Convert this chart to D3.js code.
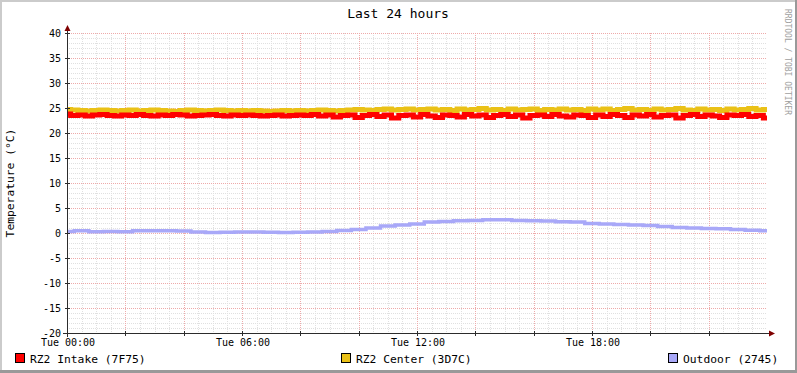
<!DOCTYPE html>
<html>
<head>
<meta charset="utf-8">
<script src="https://cdn.jsdelivr.net/npm/d3@7"></script>
<style>
  body { margin: 0; background: #fff; }
  svg text { font-family: "DejaVu Sans Mono", monospace; fill: #000; }
</style>
</head>
<body>
<svg id="chart" width="797" height="373"></svg>
<script>
(function() {
  // series values, one value per 15 minutes (red/yellow) and 30 minutes (outdoor)
  var intake = [23.8, 23.5, 23.6, 23.4, 23.6, 23.7, 23.5, 23.4, 23.6, 23.5, 23.7, 23.5, 23.4, 23.6, 23.5, 23.7,
    23.6, 23.4, 23.5, 23.6, 23.7, 23.5, 23.4, 23.6, 23.5, 23.6, 23.5, 23.4, 23.5, 23.6, 23.4, 23.5,
    23.6, 23.5, 23.7, 23.4, 23.6, 23.2, 23.5, 23.6, 23.1, 23.5, 23.7, 23.3, 23.6, 23.0, 23.5, 23.6,
    23.2, 23.7, 23.4, 23.1, 23.6, 23.5, 23.2, 23.7, 23.4, 23.6, 23.1, 23.5, 23.7, 23.3, 23.6, 23.0,
    23.5, 23.6, 23.3, 23.7, 23.4, 23.2, 23.6, 23.5, 23.1, 23.6, 23.3, 23.7, 23.5, 23.1, 23.6, 23.4,
    23.7, 23.2, 23.5, 23.6, 23.0, 23.5, 23.7, 23.3, 23.6, 23.4, 23.1, 23.6, 23.5, 23.7, 23.3, 23.5, 23.0];
  var center = [24.7, 24.6, 24.5, 24.4, 24.5, 24.6, 24.5, 24.4, 24.5, 24.6, 24.4, 24.5, 24.6, 24.5, 24.4, 24.3,
    24.5, 24.6, 24.5, 24.4, 24.5, 24.6, 24.5, 24.4, 24.5, 24.4, 24.5, 24.4, 24.3, 24.4, 24.5, 24.4,
    24.5, 24.4, 24.5, 24.6, 24.5, 24.4, 24.5, 24.6, 24.7, 24.6, 24.5, 24.7, 24.8, 24.6, 24.7, 24.8,
    24.6, 24.7, 24.8, 24.6, 24.7, 24.5, 24.8, 24.6, 24.7, 24.9, 24.6, 24.7, 24.5, 24.8, 24.6, 24.7,
    24.8, 24.5, 24.7, 24.6, 24.8, 24.6, 24.7, 24.5, 24.8, 24.6, 24.8, 24.5, 24.7, 24.9, 24.6, 24.7,
    24.5, 24.8, 24.6, 24.7, 24.9, 24.6, 24.5, 24.8, 24.6, 24.7, 24.5, 24.8, 24.6, 24.7, 24.9, 24.6, 24.7];
  var outdoor = [0.3, 0.45, 0.25, 0.3, 0.25, 0.45, 0.45, 0.45, 0.4, 0.2, 0.1, 0.15, 0.2, 0.2, 0.15, 0.1,
    0.15, 0.2, 0.3, 0.5, 0.7, 1.0, 1.4, 1.6, 1.8, 2.2, 2.3, 2.45, 2.5, 2.65, 2.65, 2.5,
    2.45, 2.4, 2.25, 2.2, 1.9, 1.8, 1.7, 1.6, 1.5, 1.3, 1.1, 1.0, 0.9, 0.85, 0.7, 0.55, 0.45];

  var seriesNames = ["RZ2 Intake (7F75)", "RZ2 Center (3D7C)", "Outdoor (2745)"];
  var seriesColors = ["#ff0000", "#eac117", "#a8a8f8"];
  var yTicks = [-20, -15, -10, -5, 0, 5, 10, 15, 20, 25, 30, 35, 40];

  var width = 797, height = 373;
  var left = 67, right = 767, top = 33, bottom = 333;

  var t0 = new Date(Date.UTC(2024, 0, 2, 0, 0)); // a Tuesday
  var t1 = new Date(Date.UTC(2024, 0, 3, 0, 0));

  var svg = d3.select("#chart");

  // frame
  svg.append("rect").attr("width", width).attr("height", height).attr("fill", "#fff");
  svg.append("rect").attr("x", 0).attr("y", 0).attr("width", width).attr("height", 2).attr("fill", "#cbcbcb");
  svg.append("rect").attr("x", 0).attr("y", 0).attr("width", 2).attr("height", height).attr("fill", "#cbcbcb");
  svg.append("rect").attr("x", 0).attr("y", height - 3).attr("width", width).attr("height", 3).attr("fill", "#999");
  svg.append("rect").attr("x", width - 2).attr("y", 0).attr("width", 2).attr("height", height).attr("fill", "#999");

  var x = d3.scaleUtc().domain([t0, t1]).range([left, right]);
  var y = d3.scaleLinear().domain([-20, 40]).range([bottom, top]);

  var grid = svg.append("g").attr("shape-rendering", "crispEdges");

  // minor grid
  var minorX = d3.utcMinute.every(30).range(t0, t1);
  grid.selectAll(".mx").data(minorX).enter().append("line")
    .attr("x1", d => Math.round(x(d)) + 0.5).attr("x2", d => Math.round(x(d)) + 0.5)
    .attr("y1", top).attr("y2", bottom)
    .attr("stroke", "#e0e0e0").attr("stroke-dasharray", "1,1");
  grid.selectAll(".my").data(d3.range(-20, 41, 1)).enter().append("line")
    .attr("x1", left).attr("x2", right)
    .attr("y1", d => Math.round(y(d)) + 0.5).attr("y2", d => Math.round(y(d)) + 0.5)
    .attr("stroke", "#e0e0e0").attr("stroke-dasharray", "1,1");

  // major grid
  var majorX = d3.utcHour.every(2).range(t0, t1);
  grid.selectAll(".Mx").data(majorX).enter().append("line")
    .attr("x1", d => Math.round(x(d)) + 0.5).attr("x2", d => Math.round(x(d)) + 0.5)
    .attr("y1", top).attr("y2", bottom)
    .attr("stroke", "#eeaaaa").attr("stroke-dasharray", "1,1");
  grid.selectAll(".My").data(yTicks).enter().append("line")
    .attr("x1", left).attr("x2", right)
    .attr("y1", d => Math.round(y(d)) + 0.5).attr("y2", d => Math.round(y(d)) + 0.5)
    .attr("stroke", "#eeaaaa").attr("stroke-dasharray", "1,1");

  // data lines
  function series(vals) {
    var step = (t1 - t0) / (vals.length - 1);
    return vals.map((v, i) => ({ t: new Date(+t0 + i * step), v: v }));
  }
  var line = d3.line().x(d => x(d.t)).y(d => y(d.v)).curve(d3.curveStep);
  var plot = svg.append("g");
  plot.append("path").datum(series(center)).attr("d", line)
    .attr("fill", "none").attr("stroke", seriesColors[1]).attr("stroke-width", 5);
  plot.append("path").datum(series(intake)).attr("d", line)
    .attr("fill", "none").attr("stroke", seriesColors[0]).attr("stroke-width", 5);
  plot.append("path").datum(series(outdoor)).attr("d", line)
    .attr("fill", "none").attr("stroke", seriesColors[2]).attr("stroke-width", 3.5);

  // axes
  var axisColor = "#2c2c2c";
  var ax = svg.append("g").attr("shape-rendering", "crispEdges");
  ax.append("line").attr("x1", left + 0.5).attr("x2", left + 0.5).attr("y1", bottom + 4).attr("y2", top - 3)
    .attr("stroke", axisColor);
  ax.append("line").attr("x1", left - 4).attr("x2", right + 4).attr("y1", bottom + 0.5).attr("y2", bottom + 0.5)
    .attr("stroke", axisColor);
  // ticks
  ax.selectAll(".ty").data(yTicks).enter().append("line")
    .attr("x1", left - 2).attr("x2", left + 3)
    .attr("y1", d => Math.round(y(d)) + 0.5).attr("y2", d => Math.round(y(d)) + 0.5)
    .attr("stroke", axisColor);
  ax.selectAll(".tx").data(majorX).enter().append("line")
    .attr("x1", d => Math.round(x(d)) + 0.5).attr("x2", d => Math.round(x(d)) + 0.5)
    .attr("y1", bottom - 2).attr("y2", bottom + 3)
    .attr("stroke", axisColor);
  // arrows
  svg.append("path").attr("d", `M${left - 2.5},${top - 2}L${left + 3.5},${top - 2}L${left + 0.5},${top - 8}Z`).attr("fill", "#7f0000");
  svg.append("path").attr("d", `M${right + 2},${bottom - 2.5}L${right + 2},${bottom + 3.5}L${right + 8},${bottom + 0.5}Z`).attr("fill", "#7f0000");

  // tick labels
  svg.append("g").selectAll("text").data(yTicks).enter().append("text")
    .attr("x", 61).attr("y", d => y(d) + 3.5)
    .attr("text-anchor", "end").attr("font-size", "10px")
    .text(d => d);
  var fmt = d3.utcFormat("%a %H:%M");
  svg.append("g").selectAll("text").data(d3.utcHour.every(6).range(t0, t1)).enter().append("text")
    .attr("x", d => x(d) + 1).attr("y", 346)
    .attr("text-anchor", "middle").attr("font-size", "10px")
    .text(d => fmt(d));

  // title
  svg.append("text").attr("x", 398).attr("y", 18).attr("text-anchor", "middle")
    .attr("font-size", "13px").text("Last 24 hours");

  // y axis title
  svg.append("text").attr("transform", "translate(14,183) rotate(-90)")
    .attr("text-anchor", "middle").attr("font-size", "11.3px").text("Temperature (°C)");

  // watermark
  svg.append("text").attr("transform", "translate(785,9) rotate(90)")
    .attr("font-size", "8px").style("fill", "#a0a0a0").text("RRDTOOL / TOBI OETIKER");

  // legend
  var legendX = [15, 341, 668];
  var lg = svg.append("g").selectAll("g").data(seriesNames).enter().append("g")
    .attr("transform", (d, i) => `translate(${legendX[i]},0)`);
  lg.append("rect").attr("x", 0.5).attr("y", 353.5).attr("width", 9).attr("height", 9)
    .attr("fill", (d, i) => seriesColors[i]).attr("stroke", "#000").attr("shape-rendering", "crispEdges");
  lg.append("text").attr("x", 15).attr("y", 362.5).attr("font-size", "11.3px").text(d => d);
})();
</script>
</body>
</html>
